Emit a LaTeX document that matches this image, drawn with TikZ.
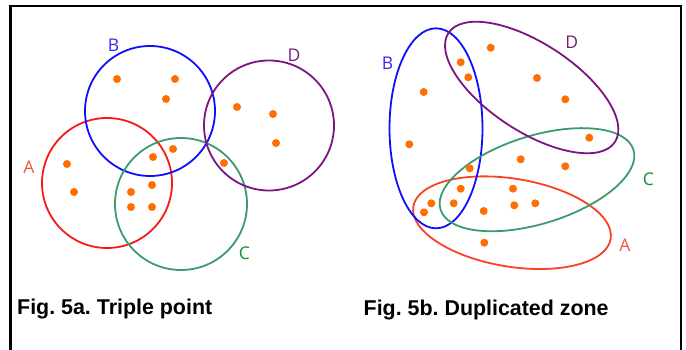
\documentclass[tikz,border=0pt]{standalone}
\usepackage{fontspec}
\setmainfont{Liberation Sans}
\newfontfamily\zonefont{Open Sans}
\usepackage{tikz}
\usetikzlibrary{positioning}
\frenchspacing

\definecolor{zoneA}{RGB}{245,25,25}
\definecolor{zoneAb}{RGB}{250,65,35}
\definecolor{zoneB}{RGB}{15,15,250}
\definecolor{zoneC}{RGB}{60,155,110}
\definecolor{zoneD}{RGB}{125,20,130}
\definecolor{labA}{RGB}{240,85,55}
\definecolor{labB}{RGB}{60,40,235}
\definecolor{labC}{RGB}{25,140,45}
\definecolor{labD}{RGB}{115,30,120}
\definecolor{elemc}{RGB}{255,110,5}

\begin{document}
\begin{tikzpicture}[
    x=1pt, y=-1pt,
    zone/.style={line width=1.8pt},
    elem/.style={fill=elemc},
    zonelbl/.style={font=\zonefont\fontsize{17.5}{17.5}\selectfont, inner sep=0pt},
    caption/.style={font=\bfseries\fontsize{21.4}{21.4}\selectfont, inner sep=0pt, anchor=base west},
]
\useasboundingbox (0,0) rectangle (686,350);

% ── Frame ──
\draw[line width=2.4pt] (10.5,352) -- (10.5,6) -- (681,6) -- (681,352);

% ── Fig. 5a: circles ──
\draw[zone, zoneA] (107,183) circle[radius=65pt];
\draw[zone, zoneB] (150,111) circle[radius=65pt];
\draw[zone, zoneC] (181,204) circle[radius=66pt];
\draw[zone, zoneD] (269,125.5) circle[radius=65pt];

\node[zonelbl, text=labA] (lblA1) at (29,167)    {A};
\node[zonelbl, text=labB] (lblB1) at (113.5,45.5) {B};
\node[zonelbl, text=labC] (lblC1) at (244.5,253) {C};
\node[zonelbl, text=labD] (lblD1) at (294,55.5)  {D};

\foreach \p in {(117,79), (175,79), (166,99), (237,107), (273,114), (276,143),
                (173,149), (153,157), (224,163), (67,164), (74,192), (152,185),
                (131,192), (131,207), (152,207)}
    \fill[elem] \p circle[radius=4pt];

\node[caption] (capA) at (17,314.5) {Fig. 5a. Triple point};

% ── Fig. 5b: ellipses ──
\draw[zone, zoneAb, rotate around={-9.3:(512,222.7)}]
    (512,222.7) ellipse[x radius=100pt, y radius=44pt];
\draw[zone, zoneB]
    (436,128.3) ellipse[x radius=46.5pt, y radius=100pt];
\draw[zone, zoneC, rotate around={17.2:(537,179.7)}]
    (537,179.7) ellipse[x radius=101pt, y radius=44pt];
\draw[zone, zoneD, rotate around={-33.2:(531.7,87.5)}]
    (531.7,87.5) ellipse[x radius=99.5pt, y radius=44pt];

\node[zonelbl, text=labA] (lblA2) at (625,245.5)   {A};
\node[zonelbl, text=labB] (lblB2) at (387.5,63.5)  {B};
\node[zonelbl, text=labC] (lblC2) at (648.3,179.5) {C};
\node[zonelbl, text=labD] (lblD2) at (571.7,42)    {D};

\foreach \p in {(490.7,47.7), (460.7,62.3), (468.3,77.3), (423.7,92), (537,78),
                (565.3,99.3), (409.3,144.3), (589.3,137.7), (520.7,159.3),
                (565.3,166.3), (469.7,168.3), (460.7,188.7), (513,188.7),
                (431.3,203.3), (453.7,203.3), (424,212.3), (483.7,211),
                (514.3,205.3), (535.3,203.3), (484.3,242.7)}
    \fill[elem] \p circle[radius=4pt];

\node[caption] (capB) at (363.5,315) {Fig. 5b. Duplicated zone};

\end{tikzpicture}
\end{document}
